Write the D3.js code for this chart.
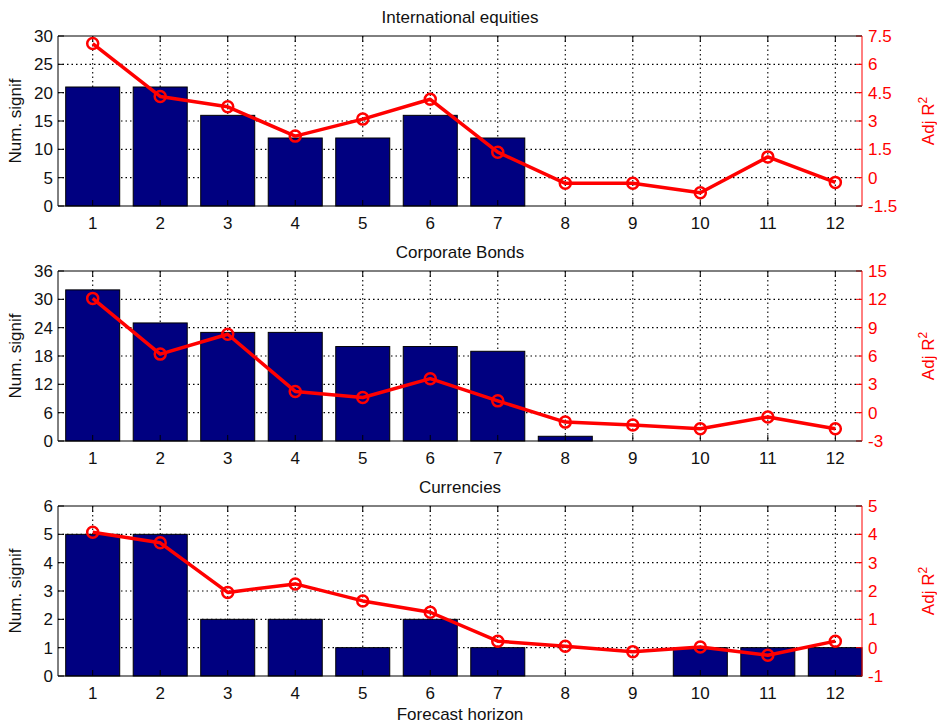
<!DOCTYPE html>
<html>
<head>
<meta charset="utf-8">
<script src="https://cdn.jsdelivr.net/npm/d3@7"></script>
<style>
  html, body { margin: 0; padding: 0; background: #fff; }
  svg { display: block; font-family: "Liberation Sans", Arial, Helvetica, sans-serif; }
</style>
</head>
<body>
<svg id="chart" width="937" height="726"></svg>
<script>
// Forecast horizons on the shared x axis
const horizons = [1, 2, 3, 4, 5, 6, 7, 8, 9, 10, 11, 12];

// Panel titles
const panelTitles = ["International equities", "Corporate Bonds", "Currencies"];

// Number of significant predictors (bars, left axis)
const equitiesSignif = [21, 21, 16, 12, 12, 16, 12, 0, 0, 0, 0, 0];
const bondsSignif = [32, 25, 23, 23, 20, 20, 19, 1, 0, 0, 0, 0];
const currenciesSignif = [5, 5, 2, 2, 1, 2, 1, 0, 0, 1, 1, 1];

// Adjusted R^2 (red line, right axis)
const equitiesAdjR2 = [7.1, 4.3, 3.75, 2.2, 3.1, 4.15, 1.35, -0.3, -0.3, -0.8, 1.1, -0.25];
const bondsAdjR2 = [12.1, 6.2, 8.3, 2.25, 1.6, 3.6, 1.25, -1.0, -1.3, -1.7, -0.45, -1.7];
const currenciesAdjR2 = [4.07, 3.7, 1.95, 2.25, 1.65, 1.25, 0.23, 0.05, -0.14, 0.02, -0.27, 0.23];

// Tick values of the left and right axes in each panel
const equitiesLeftTicks = [0, 5, 10, 15, 20, 25, 30];
const equitiesRightTicks = [-1.5, 0, 1.5, 3, 4.5, 6, 7.5];
const bondsLeftTicks = [0, 6, 12, 18, 24, 30, 36];
const bondsRightTicks = [-3, 0, 3, 6, 9, 12, 15];
const currenciesLeftTicks = [0, 1, 2, 3, 4, 5, 6];
const currenciesRightTicks = [-1, 0, 1, 2, 3, 4, 5];

const panels = [
  { title: panelTitles[0], bars: equitiesSignif, line: equitiesAdjR2, leftTicks: equitiesLeftTicks, rightTicks: equitiesRightTicks },
  { title: panelTitles[1], bars: bondsSignif, line: bondsAdjR2, leftTicks: bondsLeftTicks, rightTicks: bondsRightTicks },
  { title: panelTitles[2], bars: currenciesSignif, line: currenciesAdjR2, leftTicks: currenciesLeftTicks, rightTicks: currenciesRightTicks }
];

const svg = d3.select("#chart");
const plotLeft = 58, plotRight = 862, plotHeight = 170;
const panelTops = [36, 271, 506];
const tickLen = 6;
const fontSize = 17;
const red = "#ff0000";
const navy = "#000080";
const ink = "#111";

const x = d3.scaleLinear().domain([0.486, 12.395]).range([plotLeft, plotRight]);
const barWidth = (x(2) - x(1)) * 0.8;

panels.forEach((p, i) => {
  const top = panelTops[i];
  const bottom = top + plotHeight;
  const yL = d3.scaleLinear().domain(d3.extent(p.leftTicks)).range([bottom, top]);
  const yR = d3.scaleLinear().domain(d3.extent(p.rightTicks)).range([bottom, top]);
  const g = svg.append("g");

  // dotted grid
  const grid = g.append("g").attr("stroke", "#000").attr("stroke-width", 1.1).attr("stroke-dasharray", "1.5,3");
  grid.selectAll("line.gx").data(horizons).join("line")
    .attr("x1", d => x(d)).attr("x2", d => x(d)).attr("y1", top).attr("y2", bottom);
  grid.selectAll("line.gy").data(p.leftTicks.slice(1, -1)).join("line")
    .attr("x1", plotLeft).attr("x2", plotRight).attr("y1", d => yL(d)).attr("y2", d => yL(d));

  // bars
  g.append("g").selectAll("rect").data(horizons.map((h, k) => ({ h, v: p.bars[k] })).filter(d => d.v > 0)).join("rect")
    .attr("x", d => x(d.h) - barWidth / 2)
    .attr("width", d => Math.min(barWidth, plotRight - (x(d.h) - barWidth / 2)))
    .attr("y", d => yL(d.v))
    .attr("height", d => yL(0) - yL(d.v))
    .attr("fill", navy).attr("stroke", "#000").attr("stroke-width", 1);

  // x ticks (bottom and top, pointing inward)
  const xt = g.append("g").attr("stroke", "#000").attr("stroke-width", 1);
  xt.selectAll("line.b").data(horizons).join("line")
    .attr("x1", d => x(d)).attr("x2", d => x(d)).attr("y1", bottom).attr("y2", bottom - tickLen);
  xt.selectAll("line.t").data(horizons).join("line").attr("class", "t")
    .attr("x1", d => x(d)).attr("x2", d => x(d)).attr("y1", top).attr("y2", top + tickLen);

  // left ticks
  g.append("g").attr("stroke", "#000").selectAll("line").data(p.leftTicks).join("line")
    .attr("x1", plotLeft).attr("x2", plotLeft + tickLen).attr("y1", d => yL(d)).attr("y2", d => yL(d));
  // right ticks
  g.append("g").attr("stroke", red).selectAll("line").data(p.rightTicks).join("line")
    .attr("x1", plotRight).attr("x2", plotRight - tickLen).attr("y1", d => yR(d)).attr("y2", d => yR(d));

  // frame
  g.append("line").attr("x1", plotLeft).attr("x2", plotRight).attr("y1", top).attr("y2", top).attr("stroke", "#000");
  g.append("line").attr("x1", plotLeft).attr("x2", plotRight).attr("y1", bottom).attr("y2", bottom).attr("stroke", "#000");
  g.append("line").attr("x1", plotLeft).attr("x2", plotLeft).attr("y1", top).attr("y2", bottom).attr("stroke", "#000");
  g.append("line").attr("x1", plotRight).attr("x2", plotRight).attr("y1", top).attr("y2", bottom).attr("stroke", red);

  // x tick labels
  g.append("g").selectAll("text").data(horizons).join("text")
    .attr("x", d => x(d)).attr("y", bottom + 23)
    .attr("text-anchor", "middle").attr("font-size", fontSize).attr("fill", ink)
    .text(d => d);

  // left tick labels
  g.append("g").selectAll("text").data(p.leftTicks).join("text")
    .attr("x", plotLeft - 5).attr("y", d => yL(d)).attr("dy", "0.36em")
    .attr("text-anchor", "end").attr("font-size", fontSize).attr("fill", ink)
    .text(d => d);

  // right tick labels
  g.append("g").selectAll("text").data(p.rightTicks).join("text")
    .attr("x", plotRight + 6).attr("y", d => yR(d)).attr("dy", "0.36em")
    .attr("text-anchor", "start").attr("font-size", fontSize).attr("fill", red)
    .text(d => d);

  // Adj R^2 line with circle markers
  const pts = horizons.map((h, k) => [x(h), yR(p.line[k])]);
  g.append("path").attr("d", d3.line()(pts))
    .attr("fill", "none").attr("stroke", red).attr("stroke-width", 3.5).attr("stroke-linejoin", "round");
  g.append("g").selectAll("circle").data(pts).join("circle")
    .attr("cx", d => d[0]).attr("cy", d => d[1]).attr("r", 5.5)
    .attr("fill", "none").attr("stroke", red).attr("stroke-width", 2.5);

  // title
  g.append("text").attr("x", (plotLeft + plotRight) / 2).attr("y", top - 13)
    .attr("text-anchor", "middle").attr("font-size", fontSize).attr("fill", ink).text(p.title);

  // left axis label
  g.append("text").attr("transform", `translate(21,${(top + bottom) / 2}) rotate(-90)`)
    .attr("text-anchor", "middle").attr("font-size", fontSize).attr("fill", ink).text("Num. signif");

  // right axis label
  const rl = g.append("text").attr("transform", `translate(934,${(top + bottom) / 2}) rotate(-90)`)
    .attr("text-anchor", "middle").attr("font-size", fontSize).attr("fill", red);
  rl.append("tspan").text("Adj R");
  rl.append("tspan").attr("font-size", 12).attr("dy", "-0.6em").text("2");
});

// shared x axis label
svg.append("text").attr("x", (plotLeft + plotRight) / 2).attr("y", 720)
  .attr("text-anchor", "middle").attr("font-size", fontSize).attr("fill", ink).text("Forecast horizon");
</script>
</body>
</html>
